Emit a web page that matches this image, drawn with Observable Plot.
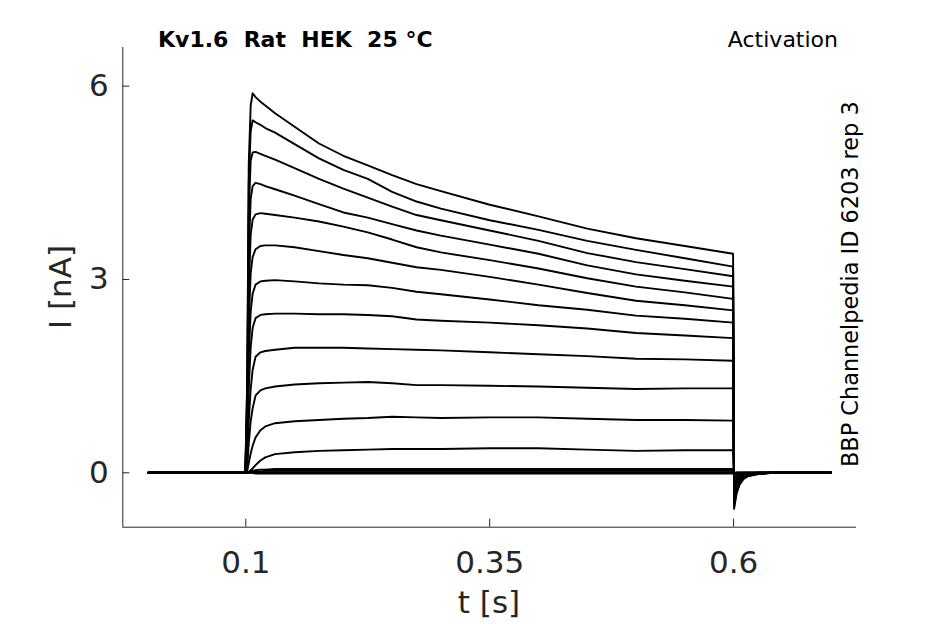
<!DOCTYPE html>
<html>
<head>
<meta charset="utf-8">
<script src="https://cdn.jsdelivr.net/npm/d3@7"></script>
<script src="https://cdn.jsdelivr.net/npm/@observablehq/plot@0.6"></script>
<style>
  html, body { margin: 0; padding: 0; background: #fff; }
  #chart { width: 945px; height: 624px; }
  svg text { font-family: "DejaVu Sans", sans-serif; }
</style>
</head>
<body>
<div id="chart"></div>
<script>
// Sample times (s)
const time = [0, 0.05, 0.0995, 0.1015, 0.103, 0.105, 0.107, 0.11, 0.115, 0.12, 0.13, 0.15, 0.175, 0.2, 0.225, 0.25, 0.275, 0.3, 0.35, 0.4, 0.45, 0.5, 0.55, 0.5995, 0.6005, 0.603, 0.606, 0.61, 0.615, 0.625, 0.64, 0.7];

// Current sweeps (nA), one per voltage step
const sweep1  = [0, 0, 0, 1.5, 4.8, 5.7, 5.89, 5.83, 5.76, 5.70, 5.58, 5.37, 5.11, 4.92, 4.77, 4.62, 4.48, 4.37, 4.16, 3.98, 3.79, 3.64, 3.52, 3.40, -0.56, -0.33, -0.19, -0.10, -0.05, -0.02, 0, 0];
const sweep2  = [0, 0, 0, 1.4, 4.5, 5.3, 5.47, 5.44, 5.40, 5.35, 5.28, 5.10, 4.88, 4.70, 4.56, 4.36, 4.21, 4.10, 3.92, 3.77, 3.60, 3.46, 3.33, 3.20, -0.52, -0.30, -0.17, -0.09, -0.05, -0.02, 0, 0];
const sweep3  = [0, 0, 0, 1.2, 4.0, 4.85, 4.97, 4.98, 4.95, 4.92, 4.86, 4.73, 4.56, 4.41, 4.27, 4.13, 4.00, 3.92, 3.76, 3.60, 3.41, 3.27, 3.16, 3.05, -0.48, -0.28, -0.16, -0.08, -0.04, -0.01, 0, 0];
const sweep4  = [0, 0, 0, 1.0, 3.4, 4.25, 4.45, 4.50, 4.48, 4.45, 4.40, 4.30, 4.17, 4.04, 3.96, 3.86, 3.76, 3.68, 3.54, 3.40, 3.22, 3.08, 2.98, 2.89, -0.44, -0.26, -0.15, -0.07, -0.04, -0.01, 0, 0];
const sweep5  = [0, 0, 0, 0.8, 2.8, 3.7, 3.93, 4.01, 4.03, 4.02, 4.00, 3.96, 3.90, 3.82, 3.73, 3.62, 3.50, 3.42, 3.30, 3.17, 3.02, 2.89, 2.80, 2.70, -0.40, -0.23, -0.13, -0.07, -0.04, -0.01, 0, 0];
const sweep6  = [0, 0, 0, 0.6, 2.3, 3.1, 3.35, 3.47, 3.52, 3.53, 3.53, 3.50, 3.44, 3.38, 3.33, 3.26, 3.19, 3.15, 3.04, 2.92, 2.79, 2.67, 2.60, 2.52, -0.35, -0.20, -0.12, -0.06, -0.03, -0.01, 0, 0];
const sweep7  = [0, 0, 0, 0.45, 1.8, 2.5, 2.78, 2.92, 2.97, 2.98, 2.99, 2.97, 2.94, 2.92, 2.91, 2.87, 2.81, 2.77, 2.69, 2.60, 2.53, 2.44, 2.39, 2.33, -0.30, -0.17, -0.10, -0.05, -0.03, -0.01, 0, 0];
const sweep8  = [0, 0, 0, 0.3, 1.3, 1.95, 2.25, 2.40, 2.45, 2.46, 2.47, 2.47, 2.46, 2.46, 2.45, 2.43, 2.38, 2.36, 2.33, 2.29, 2.24, 2.17, 2.13, 2.09, -0.25, -0.15, -0.08, -0.04, -0.02, -0.01, 0, 0];
const sweep9  = [0, 0, 0, 0.2, 0.8, 1.3, 1.6, 1.80, 1.87, 1.89, 1.91, 1.94, 1.94, 1.94, 1.93, 1.92, 1.91, 1.90, 1.87, 1.84, 1.81, 1.77, 1.76, 1.74, -0.19, -0.11, -0.06, -0.03, -0.02, 0, 0, 0];
const sweep10 = [0, 0, 0, 0.1, 0.45, 0.8, 1.0, 1.2, 1.28, 1.31, 1.34, 1.37, 1.39, 1.40, 1.41, 1.39, 1.36, 1.36, 1.35, 1.34, 1.32, 1.30, 1.31, 1.31, -0.13, -0.08, -0.04, -0.02, -0.01, 0, 0, 0];
const sweep11 = [0, 0, 0, 0.03, 0.15, 0.3, 0.42, 0.55, 0.66, 0.72, 0.77, 0.80, 0.82, 0.84, 0.85, 0.87, 0.86, 0.85, 0.86, 0.86, 0.84, 0.82, 0.82, 0.81, -0.08, -0.05, -0.03, -0.01, -0.01, 0, 0, 0];
const sweep12 = [0, 0, 0, 0, 0.01, 0.04, 0.07, 0.12, 0.19, 0.24, 0.29, 0.32, 0.34, 0.35, 0.36, 0.37, 0.37, 0.37, 0.38, 0.38, 0.36, 0.34, 0.35, 0.35, -0.04, -0.02, -0.01, 0, 0, 0, 0, 0];
const sweep13 = [0, 0, 0, 0, 0.01, 0.02, 0.03, 0.04, 0.05, 0.05, 0.06, 0.06, 0.06, 0.06, 0.06, 0.06, 0.06, 0.06, 0.06, 0.06, 0.06, 0.06, 0.06, 0.06, -0.01, 0, 0, 0, 0, 0, 0, 0];
const sweep14 = [0, 0, 0, 0, 0, 0.01, 0.01, 0.02, 0.02, 0.03, 0.03, 0.03, 0.03, 0.03, 0.03, 0.03, 0.03, 0.03, 0.03, 0.03, 0.03, 0.03, 0.03, 0.03, -0.01, 0, 0, 0, 0, 0, 0, 0];
const sweep15 = [0, 0, 0, 0, 0, 0, 0, 0.01, 0.01, 0.01, 0.01, 0.01, 0.01, 0.01, 0.01, 0.01, 0.01, 0.01, 0.01, 0.01, 0.01, 0.01, 0.01, 0.01, 0, 0, 0, 0, 0, 0, 0, 0];
const sweep16 = [0, 0, 0, 0, 0, 0, 0, -0.01, -0.01, -0.01, -0.01, -0.01, -0.01, -0.01, -0.01, -0.01, -0.01, -0.01, -0.01, -0.01, -0.01, -0.01, -0.01, -0.01, 0, 0, 0, 0, 0, 0, 0, 0];

const sweeps = [sweep1, sweep2, sweep3, sweep4, sweep5, sweep6, sweep7, sweep8, sweep9, sweep10, sweep11, sweep12, sweep13, sweep14, sweep15, sweep16];

const xTicks = [0.1, 0.35, 0.6];
const yTicks = [0, 3, 6];
const xDomain = [-0.0261, 0.726];
const yDomain = [-0.844, 6.6];

const titleText = "Kv1.6  Rat  HEK  25 °C";
const cornerText = "Activation";
const sideText = "BBP Channelpedia ID 6203 rep 3";
const xLabel = "t [s]";
const yLabel = "I [nA]";

// Build long table
const rows = [];
sweeps.forEach((s, k) => s.forEach((v, i) => rows.push({sweep: k, t: time[i], I: v})));

const axisColor = "#262626";
const W = 945, H = 624, mL = 122.3, mR = 89, mT = 47, mB = 97.3;
const frameW = W - mL - mR, frameH = H - mT - mB;

const plot = Plot.plot({
  width: W,
  height: H,
  marginLeft: mL,
  marginRight: mR,
  marginTop: mT,
  marginBottom: mB,
  style: {fontFamily: "DejaVu Sans, sans-serif", background: "#fff"},
  x: {domain: xDomain},
  y: {domain: yDomain},
  marks: [
    Plot.lineY(rows, {x: "t", y: "I", z: "sweep", stroke: "#000", strokeWidth: 1.9}),
    Plot.ruleX([xDomain[0]], {stroke: axisColor, strokeWidth: 1}),
    Plot.ruleY([yDomain[0]], {stroke: axisColor, strokeWidth: 1}),
    Plot.tickX(xTicks, {x: d => d, stroke: axisColor, strokeWidth: 1, insetTop: frameH - 8}),
    Plot.tickY(yTicks, {y: d => d, stroke: axisColor, strokeWidth: 1, insetRight: frameW - 7}),
    Plot.axisX({ticks: xTicks, tickSize: 0, tickPadding: 24, fontSize: 31, fill: axisColor, tickFormat: d => String(d), label: null}),
    Plot.axisY({ticks: yTicks, tickSize: 0, tickPadding: 14, fontSize: 31, fill: axisColor, tickFormat: d => String(d), label: null})
  ]
});

document.getElementById("chart").appendChild(plot);

const svg = d3.select(plot);
svg.append("text")
  .attr("x", 158).attr("y", 47)
  .attr("text-anchor", "start")
  .attr("font-size", 22).attr("font-weight", "bold")
  .attr("fill", "#000")
  .style("white-space", "pre").attr("xml:space", "preserve")
  .text(titleText);
svg.append("text")
  .attr("x", 838).attr("y", 47)
  .attr("text-anchor", "end")
  .attr("font-size", 22).attr("fill", "#000")
  .text(cornerText);
svg.append("text")
  .attr("transform", "translate(858,467) rotate(-90)")
  .attr("text-anchor", "start")
  .attr("font-size", 22.4).attr("fill", "#000")
  .text(sideText);
svg.append("text")
  .attr("x", 489).attr("y", 613)
  .attr("text-anchor", "middle")
  .attr("font-size", 31).attr("fill", axisColor)
  .text(xLabel);
svg.append("text")
  .attr("transform", "translate(71,287) rotate(-90)")
  .attr("text-anchor", "middle")
  .attr("font-size", 31).attr("fill", axisColor)
  .text(yLabel);
</script>
</body>
</html>
